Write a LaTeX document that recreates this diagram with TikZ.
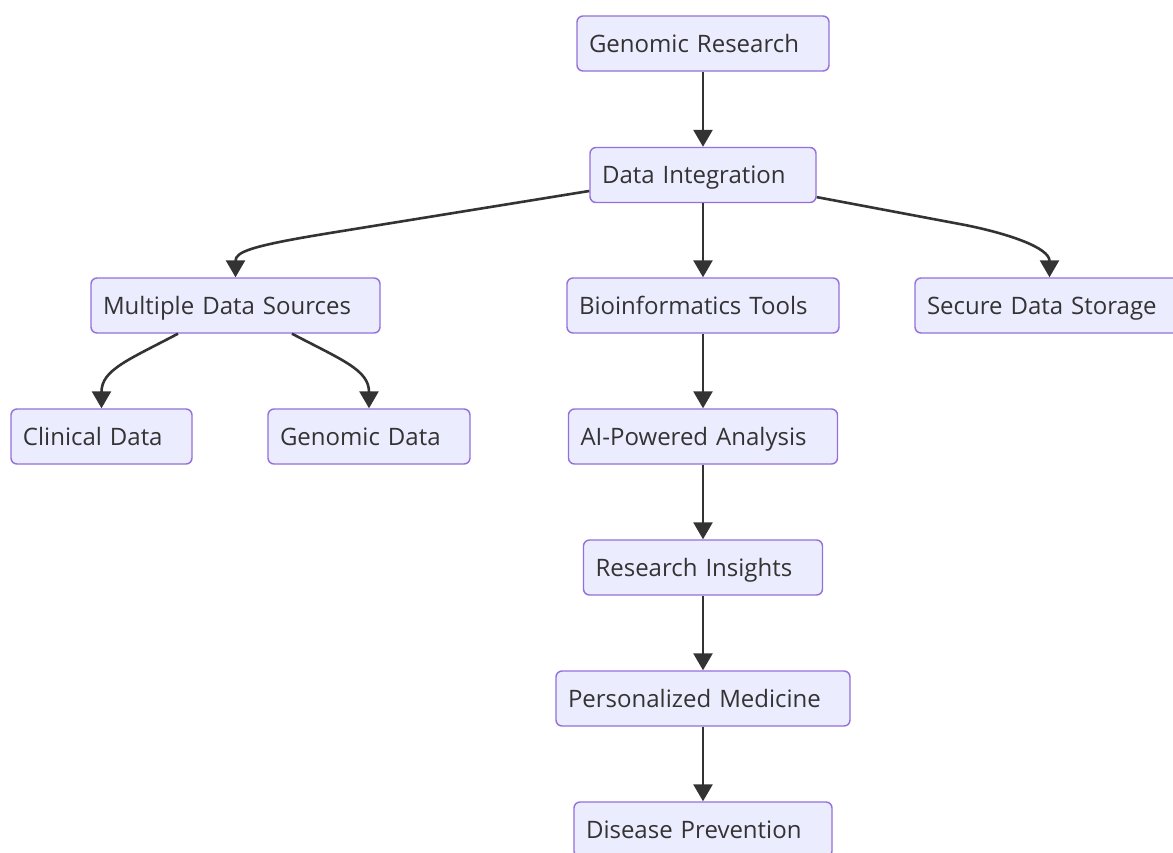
\documentclass[tikz,border=0pt]{standalone}
\usepackage{fontspec}
\setmainfont{Open Sans}
\usetikzlibrary{arrows.meta,calc}
\definecolor{boxfill}{HTML}{ECECFF}
\definecolor{boxline}{HTML}{9370DB}
\definecolor{ink}{HTML}{333333}
\tikzset{
  box/.style={draw=boxline, fill=boxfill, line width=1.4pt, rounded corners=6pt,
    minimum height=55pt, inner xsep=12pt, inner ysep=0pt, align=left,
    text height=20pt, text depth=3pt,
    text=ink, font=\fontsize{24}{28}\selectfont},
  arr/.style={draw=ink, line width=2.6pt,
    -{Triangle[length=17pt,width=19pt]}}
}
\begin{document}
\begin{tikzpicture}[x=1pt,y=-1pt]
\clip (0,0) rectangle (1173,852);
\fill[white] (0,0) rectangle (1173,852);

% nodes
\node[box, text width=228pt] (gr)  at (703,43.5)   {Genomic Research};
\node[box, text width=202pt] (di)  at (703,175)    {Data Integration};
\node[box, text width=265pt] (mds) at (235.5,305.5){Multiple Data Sources};
\node[box, text width=248pt] (bt)  at (703,305.5)  {Bioinformatics Tools};
\node[box, text width=245pt] (sds) at (1049.5,305.5){Secure Data Storage};
\node[box, text width=157pt] (cd)  at (101.5,436.5){Clinical Data};
\node[box, text width=178pt] (gd)  at (369,436.5)  {Genomic Data};
\node[box, text width=245pt] (ai)  at (703,436.5)  {AI-Powered Analysis};
\node[box, text width=215pt] (ri)  at (703,567.5)  {Research Insights};
\node[box, text width=270pt] (pm)  at (703,698.5)  {Personalized Medicine};
\node[box, text width=234pt] (dp)  at (703,829.5)  {Disease Prevention};

% straight connectors
\draw[arr] (gr.south) -- (di.north);
\draw[arr] (di.south) -- (bt.north);
\draw[arr] (bt.south) -- (ai.north);
\draw[arr] (ai.south) -- (ri.north);
\draw[arr] (ri.south) -- (pm.north);
\draw[arr] (pm.south) -- (dp.north);

% curved connectors
\draw[arr] (di.188) -- (330,233) .. controls (250,246) and (235.5,252) .. (mds.north);
\draw[arr] (di.349) -- (965,225) .. controls (1010,234) and (1049.5,248) .. (sds.north);
\draw[arr] ([xshift=-57.5pt]mds.south) .. controls (128,360) and (101.5,370) .. (cd.north);
\draw[arr] ([xshift=56.5pt]mds.south) .. controls (342,360) and (369,370) .. (gd.north);
\end{tikzpicture}
\end{document}
